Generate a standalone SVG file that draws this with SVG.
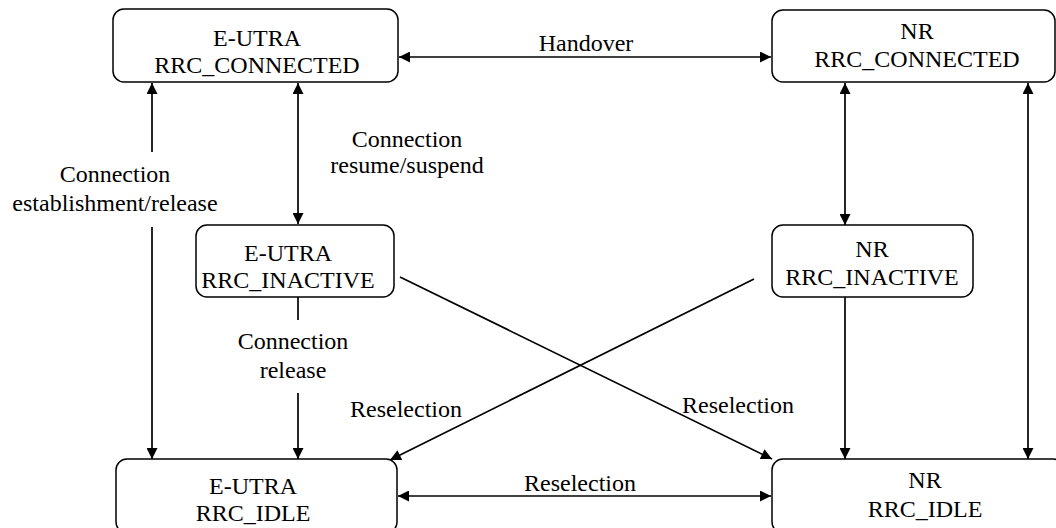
<svg xmlns="http://www.w3.org/2000/svg" width="1056" height="528" viewBox="0 0 1056 528">
<defs>
<marker id="ah" viewBox="0 0 10 10" refX="10" refY="5" markerWidth="11" markerHeight="11" markerUnits="userSpaceOnUse" orient="auto-start-reverse">
<path d="M0,0 L10,5 L0,10 z" fill="#000"/>
</marker>
<style>
.box{fill:#fff;stroke:#000;stroke-width:1.5}
.t{font-family:"Liberation Serif","Times New Roman",serif;font-size:24px;fill:#000;text-anchor:middle}
.c{stroke:#000;stroke-width:1.7;fill:none}
.a{marker-end:url(#ah)}
.d{marker-start:url(#ah);marker-end:url(#ah)}
</style>
</defs>
<rect width="1056" height="528" fill="#fff"/>
<g id="connectors">
<line class="c d" x1="399" y1="57" x2="771" y2="57"/>
<line class="c d" x1="398" y1="496" x2="771" y2="496"/>
<line class="c" x1="152" y1="83" x2="152" y2="152" style="marker-start:url(#ah)"/>
<line class="c a" x1="152" y1="227" x2="152" y2="459"/>
<line class="c d" x1="298" y1="83" x2="298" y2="224"/>
<line class="c" x1="298" y1="297" x2="298" y2="320"/>
<line class="c a" x1="298" y1="393" x2="298" y2="459"/>
<line class="c d" x1="845" y1="83" x2="845" y2="225"/>
<line class="c a" x1="845" y1="297" x2="845" y2="459"/>
<line class="c d" x1="1028" y1="83" x2="1028" y2="459"/>
<line class="c a" x1="400" y1="277" x2="772" y2="459"/>
<line class="c a" x1="754" y1="279" x2="390" y2="460"/>
<text class="t" x="586" y="51">Handover</text>
<text class="t" x="407" y="147">Connection</text>
<text class="t" x="407" y="173">resume/suspend</text>
<text class="t" x="115" y="182">Connection</text>
<text class="t" x="115" y="211">establishment/release</text>
<text class="t" x="293" y="349">Connection</text>
<text class="t" x="293" y="378">release</text>
<text class="t" x="406" y="417">Reselection</text>
<text class="t" x="738" y="413">Reselection</text>
<text class="t" x="580" y="491">Reselection</text>
</g>
<g id="eutra-connected">
<rect class="box" x="113" y="9" width="285" height="73" rx="11"/>
<text class="t" x="257" y="46">E-UTRA</text>
<text class="t" x="257" y="73">RRC_CONNECTED</text>
</g>
<g id="nr-connected">
<rect class="box" x="772" y="10" width="283" height="72" rx="11"/>
<text class="t" x="917" y="39">NR</text>
<text class="t" x="917" y="67">RRC_CONNECTED</text>
</g>
<g id="eutra-inactive">
<rect class="box" x="196" y="225" width="198" height="72" rx="11"/>
<text class="t" x="288" y="261">E-UTRA</text>
<text class="t" x="288" y="288">RRC_INACTIVE</text>
</g>
<g id="nr-inactive">
<rect class="box" x="772" y="225" width="201" height="72" rx="11"/>
<text class="t" x="872" y="257">NR</text>
<text class="t" x="872" y="285">RRC_INACTIVE</text>
</g>
<g id="eutra-idle">
<rect class="box" x="116" y="459" width="281" height="74" rx="11"/>
<text class="t" x="253" y="494">E-UTRA</text>
<text class="t" x="253" y="521">RRC_IDLE</text>
</g>
<g id="nr-idle">
<rect class="box" x="772" y="459" width="292" height="74" rx="11"/>
<text class="t" x="925" y="488">NR</text>
<text class="t" x="925" y="517">RRC_IDLE</text>
</g>
</svg>
